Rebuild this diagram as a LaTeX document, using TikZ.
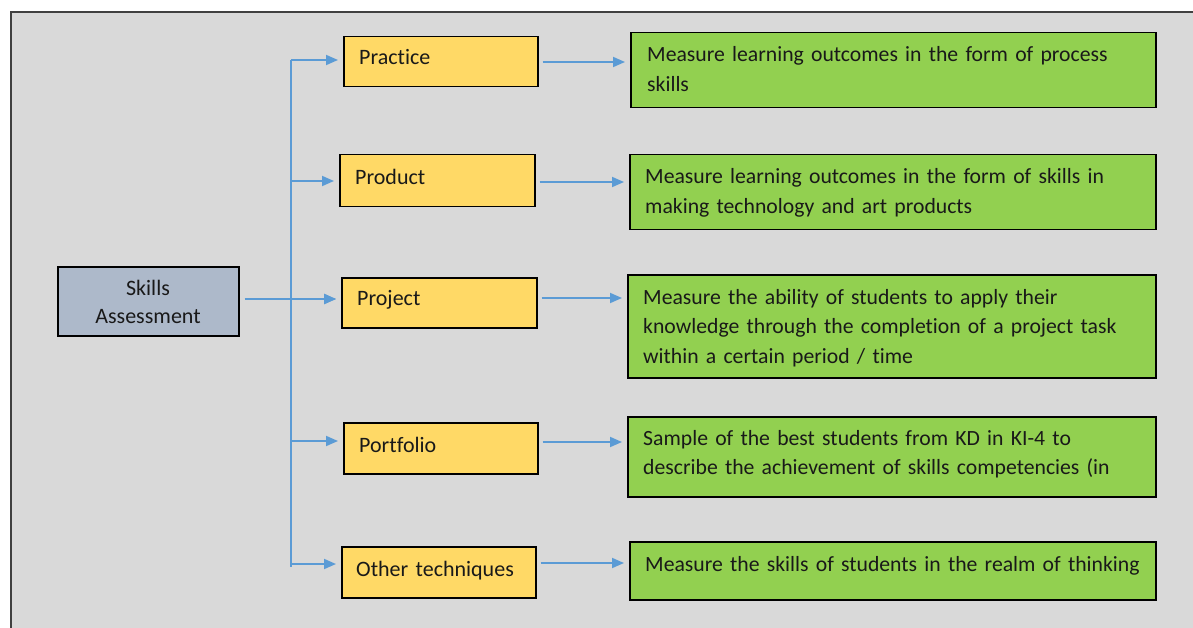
\documentclass[tikz,border=0pt]{standalone}
\usepackage{fontspec}
\setmainfont{Carlito}[Ligatures={NoCommon}]
\usetikzlibrary{arrows.meta}
\definecolor{bgc}{HTML}{D9D9D9}
\definecolor{framec}{HTML}{404040}
\definecolor{yel}{HTML}{FFD966}
\definecolor{grn}{HTML}{92D050}
\definecolor{sab}{HTML}{ADB9CA}
\definecolor{lnk}{HTML}{5B9BD5}
\tikzset{
  box/.style={draw=black, line width=1.5pt, rectangle, inner sep=0pt, anchor=north west},
  ybox/.style={box, fill=yel},
  gbox/.style={box, fill=grn},
  sbox/.style={box, fill=sab},
  txt/.style={inner sep=0pt, anchor=base west, align=left, text width=540pt,
    font=\fontsize{21.7}{29.5}\selectfont, text=black!90},
  ytxt/.style={txt, font=\fontsize{22}{29.5}\selectfont},
  link/.style={draw=lnk, line width=1.8pt},
  arr/.style={link, -{Triangle[length=12pt,width=10pt]}, shorten >=5pt},
}
\begin{document}
\begin{tikzpicture}[x=1pt,y=-1pt]
\useasboundingbox (0,0) rectangle (1193,628);
\clip (0,0) rectangle (1193,628);
\fill[white] (0,0) rectangle (1193,628);
\draw[fill=bgc, draw=framec, line width=2pt] (11,12) rectangle (1220,660);

% left box
\node[sbox, minimum width=181pt, minimum height=69pt] (sa) at (57,266) {};
\node[inner sep=0pt, anchor=base, align=center, font=\fontsize{22}{28}\selectfont, text=black!90] (sat) at (148,323) {Skills\\Assessment};

% yellow boxes
\node[ybox, minimum width=194pt, minimum height=50pt] (y1) at (343,36) {};
\node[ybox, minimum width=195pt, minimum height=52pt] (y2) at (339,154) {};
\node[ybox, minimum width=195pt, minimum height=50pt] (y3) at (341,277) {};
\node[ybox, minimum width=194pt, minimum height=51pt] (y4) at (343,422) {};
\node[ybox, minimum width=194pt, minimum height=51pt] (y5) at (341,546) {};
\node[ytxt] (y1t) at (359,65) {Practice};
\node[ytxt] (y2t) at (355,185) {Product};
\node[ytxt] (y3t) at (357,305) {Project};
\node[ytxt] (y4t) at (359,452) {Portfolio};
\node[ytxt] (y5t) at (356,576) {Other techniques};

% green boxes
\node[gbox, minimum width=525pt, minimum height=75pt] (g1) at (630,32) {};
\node[gbox, minimum width=526pt, minimum height=75pt] (g2) at (629,154) {};
\node[gbox, minimum width=528pt, minimum height=103pt] (g3) at (627,274) {};
\node[gbox, minimum width=528pt, minimum height=80pt] (g4) at (627,416) {};
\node[gbox, minimum width=526pt, minimum height=58pt] (g5) at (629,541) {};
\node[txt] (g1t) at (647,62) {Measure learning outcomes in the form of process\\skills};
\node[txt] (g2t) at (645,184) {Measure learning outcomes in the form of skills in\\making technology and art products};
\node[txt] (g3t) at (643,304) {Measure the ability of students to apply their\\knowledge through the completion of a project task\\within a certain period / time};
\node[txt] (g4t) at (643,445) {Sample of the best students from KD in KI-4 to\\describe the achievement of skills competencies (in};
\node[txt] (g5t) at (645,571) {Measure the skills of students in the realm of thinking};

% trunk levels
\coordinate (a1) at (291,60);
\coordinate (a2) at (291,181);
\coordinate (a3) at (291,299);
\coordinate (a4) at (291,441);
\coordinate (a5) at (291,564);
\coordinate (aend) at (291,567);

\draw[link] (a1) -- (aend);
\draw[arr, shorten <=5pt] (sa.east |- a3) -- (y3.west |- a3);
\draw[arr] (a1) -- (y1.west |- a1);
\draw[arr] (a2) -- (y2.west |- a2);
\draw[arr] (a3) -- (y3.west |- a3);
\draw[arr] (a4) -- (y4.west |- a4);
\draw[arr] (a5) -- (y5.west |- a5);

\draw[arr, shorten <=4pt] ([yshift=-2pt]y1.east |- a1) -- ([yshift=-2pt]g1.west |- a1);
\draw[arr, shorten <=4pt] ([yshift=-1pt]y2.east |- a2) -- ([yshift=-1pt]g2.west |- a2);
\draw[arr, shorten <=4pt] ([yshift=1pt]y3.east |- a3) -- ([yshift=1pt]g3.west |- a3);
\draw[arr, shorten <=4pt] ([yshift=-1pt]y4.east |- a4) -- ([yshift=-1pt]g4.west |- a4);
\draw[arr, shorten <=4pt] ([yshift=1pt]y5.east |- a5) -- ([yshift=1pt]g5.west |- a5);
\end{tikzpicture}
\end{document}
